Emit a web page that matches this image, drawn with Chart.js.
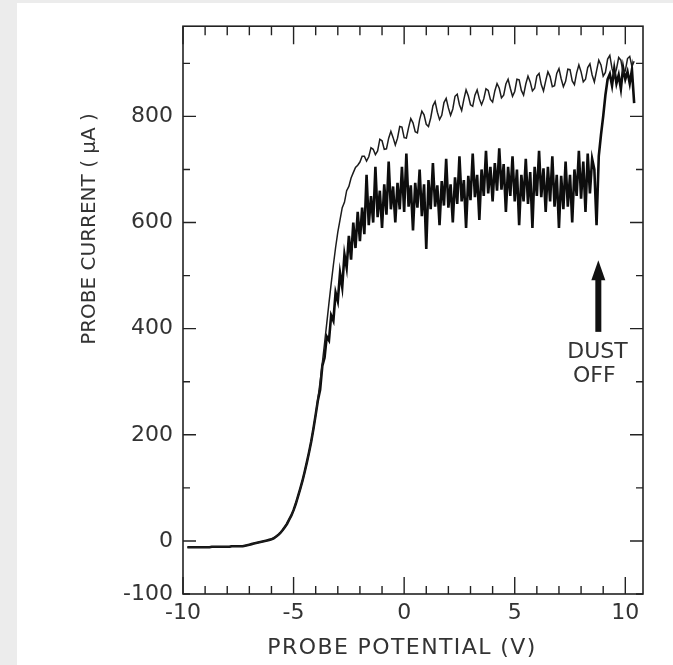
<!DOCTYPE html>
<html>
<head>
<meta charset="utf-8">
<script src="https://cdn.jsdelivr.net/npm/chart.js@4.4.1/dist/chart.umd.min.js"></script>
<style>
  html, body { margin: 0; padding: 0; background: #ececec; }
  #panel { position: absolute; left: 17px; top: 3px; width: 656px; height: 662px; background: #fff; }
  canvas { display: block; }
</style>
</head>
<body>
<div id="panel"><canvas id="probeChart" width="656" height="662"></canvas></div>
<script>
// Probe potential sweep (V)
const potential = [
  -9.8, -9.7, -9.6, -9.5, -9.4, -9.3, -9.2, -9.1, -9.0, -8.9,
  -8.8, -8.7, -8.6, -8.5, -8.4, -8.3, -8.2, -8.1, -8.0, -7.9,
  -7.8, -7.7, -7.6, -7.5, -7.4, -7.3, -7.2, -7.1, -7.0, -6.9,
  -6.8, -6.7, -6.6, -6.5, -6.4, -6.3, -6.2, -6.1, -6.0, -5.9,
  -5.8, -5.7, -5.6, -5.5, -5.4, -5.3, -5.2, -5.1, -5.0, -4.9,
  -4.8, -4.7, -4.6, -4.5, -4.4, -4.3, -4.2, -4.1, -4.0, -3.9,
  -3.8, -3.7, -3.6, -3.5, -3.4, -3.3, -3.2, -3.1, -3.0, -2.9,
  -2.8, -2.7, -2.6, -2.5, -2.4, -2.3, -2.2, -2.1, -2.0, -1.9,
  -1.8, -1.7, -1.6, -1.5, -1.4, -1.3, -1.2, -1.1, -1.0, -0.9,
  -0.8, -0.7, -0.6, -0.5, -0.4, -0.3, -0.2, -0.1, 0.0, 0.1,
  0.2, 0.3, 0.4, 0.5, 0.6, 0.7, 0.8, 0.9, 1.0, 1.1,
  1.2, 1.3, 1.4, 1.5, 1.6, 1.7, 1.8, 1.9, 2.0, 2.1,
  2.2, 2.3, 2.4, 2.5, 2.6, 2.7, 2.8, 2.9, 3.0, 3.1,
  3.2, 3.3, 3.4, 3.5, 3.6, 3.7, 3.8, 3.9, 4.0, 4.1,
  4.2, 4.3, 4.4, 4.5, 4.6, 4.7, 4.8, 4.9, 5.0, 5.1,
  5.2, 5.3, 5.4, 5.5, 5.6, 5.7, 5.8, 5.9, 6.0, 6.1,
  6.2, 6.3, 6.4, 6.5, 6.6, 6.7, 6.8, 6.9, 7.0, 7.1,
  7.2, 7.3, 7.4, 7.5, 7.6, 7.7, 7.8, 7.9, 8.0, 8.1,
  8.2, 8.3, 8.4, 8.5, 8.6, 8.7, 8.8, 8.9, 9.0, 9.1,
  9.2, 9.3, 9.4, 9.5, 9.6, 9.7, 9.8, 9.9, 10.0, 10.1,
  10.2, 10.3, 10.4
];

// Upper trace (dust off), current in uA
const currentClean = [
  -12, -12, -12, -12, -12, -12, -12, -12, -12, -12,
  -12, -11, -11, -11, -11, -11, -11, -11, -11, -11,
  -10, -10, -10, -10, -10, -10, -9, -8, -7, -6,
  -5, -4, -3, -2, -1, 0, 1, 2, 3, 5,
  8, 11, 15, 20, 26, 32, 40, 48, 58, 70,
  84, 98, 113, 130, 148, 167, 188, 212, 238, 268,
  300, 335, 372, 410, 448, 485, 520, 553, 582, 605,
  628, 638, 660, 668, 684, 694, 704, 708, 714, 725,
  725, 716, 724, 741, 738, 728, 735, 757, 754, 738,
  739, 759, 772, 760, 746, 759, 781, 780, 760, 759,
  779, 796, 788, 771, 769, 794, 810, 803, 785, 781,
  797, 820, 828, 808, 794, 802, 826, 834, 816, 802,
  814, 838, 842, 822, 811, 832, 850, 839, 822, 819,
  840, 850, 833, 822, 833, 852, 849, 832, 827, 848,
  862, 853, 835, 840, 861, 870, 853, 838, 847, 870,
  869, 849, 840, 861, 876, 865, 848, 853, 876, 881,
  860, 848, 867, 884, 875, 856, 858, 881, 890, 871,
  856, 866, 889, 888, 867, 860, 882, 897, 884, 865,
  870, 892, 899, 878, 865, 886, 906, 897, 876, 883,
  908, 915, 890, 875, 889, 911, 906, 882, 886, 909,
  913, 894, 904
];

// Lower trace (with dust), current in uA
const currentDusty = [
  -12, -12, -12, -12, -12, -12, -12, -12, -12, -12,
  -12, -11, -11, -11, -11, -11, -11, -11, -11, -11,
  -10, -10, -10, -10, -10, -10, -9, -8, -7, -6,
  -5, -4, -3, -2, -1, 0, 1, 2, 3, 5,
  8, 11, 15, 20, 26, 32, 40, 48, 58, 70,
  84, 98, 113, 130, 148, 167, 188, 212, 238, 265,
  285, 330, 345, 385, 378, 425, 415, 468, 452, 505,
  478, 540, 515, 575, 530, 600, 552, 620, 565, 628,
  578, 690, 595, 650, 600, 705, 610, 660, 590, 672,
  615, 715, 625, 668, 600, 675, 625, 705, 620, 730,
  630, 670, 585, 675, 628, 700, 612, 672, 550, 680,
  625, 712, 630, 670, 595, 678, 632, 720, 628, 672,
  600, 685, 635, 725, 640, 680, 590, 688, 642, 730,
  648, 690, 605, 700, 650, 735, 655, 705, 640, 712,
  660, 740, 662, 710, 620, 705, 650, 725, 640, 700,
  595, 690, 640, 720, 635, 695, 590, 705, 650, 735,
  648, 702, 620, 705, 640, 725, 630, 690, 590, 688,
  625, 715, 630, 690, 600, 700, 650, 735, 645, 715,
  620, 730, 655, 720, 700, 595, 725, 765, 800, 840,
  870, 880, 858, 890, 862, 878, 852, 892, 870, 884,
  862, 888, 825
];

// Axis ticks
const xTickLabels = [-10, -5, 0, 5, 10];
const xMinorTicks = [-10, -9, -8, -7, -6, -5, -4, -3, -2, -1, 0, 1, 2, 3, 4, 5, 6, 7, 8, 9, 10];
const yTickLabels = [-100, 0, 200, 400, 600, 800];
const yMinorTicks = [-100, 0, 100, 200, 300, 400, 500, 600, 700, 800, 900];
const yMajorTicks = [0, 200, 400, 600, 800];

const FONT = "'DejaVu Sans', sans-serif";
const INK = '#1c1c1c';
const TEXT = '#333';

const toPoints = (xs, ys) => xs.map((v, i) => ({ x: v, y: ys[i] }));

// frame, inward ticks, arrow, annotation text and axis titles
const figureDecor = {
    id: 'figureDecor',
    afterDraw(chart) {
        const { ctx, chartArea: a, scales: { x, y } } = chart;
        ctx.save();
        ctx.strokeStyle = '#222';
        ctx.lineWidth = 1.6;
        ctx.strokeRect(a.left, a.top, a.right - a.left, a.bottom - a.top);

        ctx.lineWidth = 1.4;
        ctx.beginPath();
        xMinorTicks.forEach(v => {
            const px = x.getPixelForValue(v);
            const major = xTickLabels.includes(v);
            ctx.moveTo(px, a.bottom);
            ctx.lineTo(px, a.bottom - (major ? 17 : 8));
            ctx.moveTo(px, a.top);
            ctx.lineTo(px, a.top + (major ? 18 : 9));
        });
        yMinorTicks.forEach(v => {
            const py = y.getPixelForValue(v);
            const len = yMajorTicks.includes(v) ? 13 : 7;
            ctx.moveTo(a.left, py);
            ctx.lineTo(a.left + len, py);
            ctx.moveTo(a.right, py);
            ctx.lineTo(a.right - len, py);
        });
        ctx.stroke();

        // "dust off" arrow
        const ax = x.getPixelForValue(8.78);
        const tip = y.getPixelForValue(529);
        const tail = y.getPixelForValue(394);
        ctx.fillStyle = '#111';
        ctx.fillRect(ax - 3, tip + 18, 6, tail - tip - 18);
        ctx.beginPath();
        ctx.moveTo(ax, tip);
        ctx.lineTo(ax - 7, tip + 20);
        ctx.lineTo(ax + 7, tip + 20);
        ctx.closePath();
        ctx.fill();

        ctx.fillStyle = TEXT;
        ctx.font = '22px ' + FONT;
        ctx.textAlign = 'center';
        ctx.textBaseline = 'middle';
        ctx.fillText('DUST', x.getPixelForValue(8.74), y.getPixelForValue(355));
        ctx.fillText('OFF', x.getPixelForValue(8.6), y.getPixelForValue(310));

        // axis titles
        ctx.font = '22px ' + FONT;
        ctx.letterSpacing = '1.4px';
        ctx.fillText('PROBE POTENTIAL (V)', 385, 645);
        ctx.letterSpacing = '0px';
        ctx.font = '20px ' + FONT;
        ctx.translate(73, 226);
        ctx.rotate(-Math.PI / 2);
        ctx.fillText('PROBE CURRENT ( \u03bcA )', 0, 0);
        ctx.restore();
    }
};

const ctx = document.getElementById('probeChart');
new Chart(ctx, {
    type: 'scatter',
    data: {
        datasets: [{
            label: 'Dust off',
            data: toPoints(potential, currentClean),
            showLine: true,
            borderColor: INK,
            borderWidth: 1.5,
            pointRadius: 0,
            tension: 0
        }, {
            label: 'Dust',
            data: toPoints(potential, currentDusty),
            showLine: true,
            borderColor: '#0d0d0d',
            borderWidth: 2.6,
            pointRadius: 0,
            tension: 0
        }]
    },
    options: {
        responsive: false,
        animation: false,
        layout: { padding: { top: 20, right: 30, left: 0, bottom: 0 } },
        scales: {
            x: {
                type: 'linear',
                min: -10,
                max: 10.8,
                grid: { display: false, drawTicks: false },
                border: { display: false },
                afterBuildTicks: scale => { scale.ticks = xTickLabels.map(v => ({ value: v })); },
                afterFit: scale => { scale.height = 71; },
                ticks: {
                    padding: 6,
                    color: TEXT,
                    font: { family: FONT, size: 22 }
                }
            },
            y: {
                type: 'linear',
                min: -100,
                max: 970,
                grid: { display: false, drawTicks: false },
                border: { display: false },
                afterBuildTicks: scale => { scale.ticks = yTickLabels.map(v => ({ value: v })); },
                afterFit: scale => { scale.width = 166; },
                ticks: {
                    padding: 10,
                    color: TEXT,
                    font: { family: FONT, size: 22 }
                }
            }
        },
        plugins: {
            legend: { display: false },
            tooltip: { enabled: false }
        }
    },
    plugins: [figureDecor]
});
</script>
</body>
</html>
